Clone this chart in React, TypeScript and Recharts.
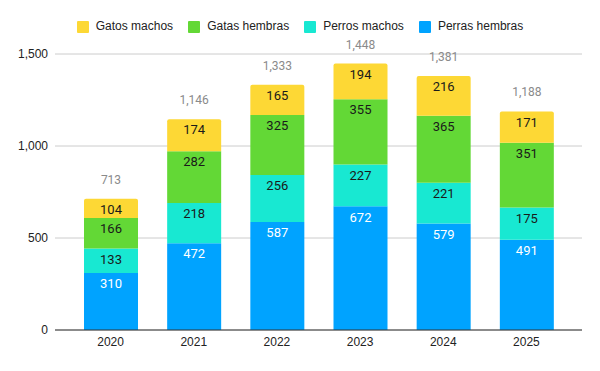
import React from "react";
import { BarChart, Bar, XAxis, YAxis, CartesianGrid, LabelList } from "recharts";

const years = ["2020", "2021", "2022", "2023", "2024", "2025"];
const perrasHembras = [310, 472, 587, 672, 579, 491];
const perrosMachos = [133, 218, 256, 227, 221, 175];
const gatasHembras = [166, 282, 325, 355, 365, 351];
const gatosMachos = [104, 174, 165, 194, 216, 171];
const yTicks = [0, 500, 1000, 1500];

const SERIES = [
  { key: "perrasHembras", name: "Perras hembras", color: "#00a3ff", text: "#ffffff" },
  { key: "perrosMachos", name: "Perros machos", color: "#18e8d2", text: "#1a1a1a" },
  { key: "gatasHembras", name: "Gatas hembras", color: "#63d836", text: "#1a1a1a" },
  { key: "gatosMachos", name: "Gatos machos", color: "#fdd835", text: "#1a1a1a" },
];

const data = years.map((year, i) => ({
  year,
  perrasHembras: perrasHembras[i],
  perrosMachos: perrosMachos[i],
  gatasHembras: gatasHembras[i],
  gatosMachos: gatosMachos[i],
  total: perrasHembras[i] + perrosMachos[i] + gatasHembras[i] + gatosMachos[i],
}));

const fmt = (v: number) => v.toLocaleString("en-US");
const AXIS_FONT = "Arial, 'Liberation Sans', sans-serif";
const LABEL_FONT = "Roboto, Arial, sans-serif";

function TopLegend() {
  // legend order is reversed vs stack order
  const items = [...SERIES].reverse();
  return (
    <div
      style={{
        position: "absolute",
        top: 20,
        left: 0,
        width: 600,
        display: "flex",
        justifyContent: "center",
        gap: 15,
        fontFamily: AXIS_FONT,
        fontSize: 12,
        lineHeight: "13px",
        color: "#222",
      }}
    >
      {items.map((s) => (
        <div key={s.key} style={{ display: "flex", alignItems: "center", gap: 7 }}>
          <span style={{ width: 12, height: 12, borderRadius: 1, background: s.color, display: "inline-block" }} />
          <span>{s.name}</span>
        </div>
      ))}
    </div>
  );
}

export default function App() {
  return (
    <div style={{ position: "relative", width: 600, height: 371, background: "#fff" }}>
      <style>{"body{margin:0}"}</style>
      <TopLegend />
      <BarChart
        width={600}
        height={371}
        data={data}
        margin={{ top: 54, right: 18, bottom: 11, left: 0 }}
        barSize={54}
      >
        <CartesianGrid vertical={false} stroke="#cccccc" />
        <XAxis
          dataKey="year"
          padding={{ left: 14, right: 14 }}
          tickLine={false}
          tickSize={0}
          tickMargin={7}
          axisLine={{ stroke: "#333333" }}
          tick={{ fill: "#222", fontSize: 12, fontFamily: AXIS_FONT }}
          height={30}
        />
        <YAxis
          domain={[0, 1500]}
          ticks={yTicks}
          width={55}
          axisLine={false}
          tickLine={false}
          tickSize={0}
          tickMargin={7}
          tickFormatter={fmt}
          tick={{ fill: "#222", fontSize: 12, fontFamily: AXIS_FONT }}
        />
        {SERIES.map((s, idx) => (
          <Bar
            key={s.key}
            dataKey={s.key}
            name={s.name}
            stackId="a"
            fill={s.color}
            isAnimationActive={false}
            radius={idx === SERIES.length - 1 ? [2, 2, 0, 0] : 0}
          >
            <LabelList
              dataKey={s.key}
              position="insideTop"
              offset={6}
              fill={s.text}
              style={{ fontSize: 13, fontFamily: LABEL_FONT, fontWeight: 400 }}
            />
            {idx === SERIES.length - 1 && (
              <LabelList
                dataKey="total"
                position="top"
                offset={15}
                formatter={(v: number) => fmt(v)}
                fill="#8a8a8a"
                style={{ fontSize: 12, fontFamily: LABEL_FONT, fontWeight: 400 }}
              />
            )}
          </Bar>
        ))}
      </BarChart>
    </div>
  );
}
